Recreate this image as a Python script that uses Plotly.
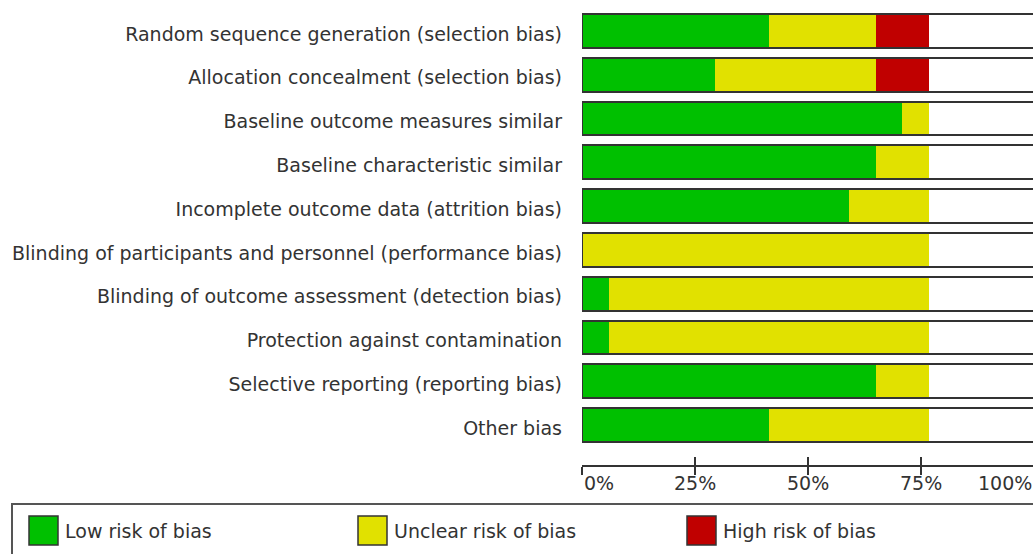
import plotly.graph_objects as go

# ---------------- data (percent of the drawn axis) ----------------
categories = [
    "Random sequence generation (selection bias)",
    "Allocation concealment (selection bias)",
    "Baseline outcome measures similar",
    "Baseline characteristic similar",
    "Incomplete outcome data (attrition bias)",
    "Blinding of participants and personnel (performance bias)",
    "Blinding of outcome assessment (detection bias)",
    "Protection against contamination",
    "Selective reporting (reporting bias)",
    "Other bias",
]
low_risk = [41.3, 29.5, 70.8, 64.9, 59.0, 0.0, 5.9, 5.9, 64.9, 41.3]
unclear_risk = [23.6, 35.4, 5.9, 11.8, 17.7, 76.7, 70.8, 70.8, 11.8, 35.4]
high_risk = [11.8, 11.8, 0.0, 0.0, 0.0, 0.0, 0.0, 0.0, 0.0, 0.0]
full_scale = [100.0] * len(categories)

series_names = ["Low risk of bias", "Unclear risk of bias", "High risk of bias"]
series_colors = ["#00C000", "#E1E100", "#C00000"]

tick_values = [0, 25, 50, 75, 100]
tick_labels = ["0%", "25%", "50%", "75%", "100%"]
tick_anchors = ["left", "center", "center", "center", "right"]

# ---------------- layout geometry ----------------
FIG_W, FIG_H = 1033, 554
L, R, T, B = 582, 0, 9, 89
PW, PH = FIG_W - L - R, FIG_H - T - B
XMAX = 99.7
BAR_W = 0.77
LABEL_SHIFT = 0.07

def px_x(px):
    return (px - L) / PW

def px_y(py):
    return (FIG_H - B - py) / PH

fig = go.Figure()

for name, vals, col in zip(series_names, [low_risk, unclear_risk, high_risk], series_colors):
    fig.add_trace(go.Bar(
        y=categories, x=vals, name=name, orientation="h",
        marker=dict(color=col, line=dict(width=0)),
        width=BAR_W, showlegend=False, hoverinfo="x+y",
    ))

# outline box of each bar (0-100%) drawn on top
fig.add_trace(go.Bar(
    y=categories, x=full_scale, orientation="h", xaxis="x2", yaxis="y2",
    marker=dict(color="rgba(0,0,0,0)", line=dict(color="#333333", width=2)),
    width=BAR_W, showlegend=False, hoverinfo="skip",
))

# invisible carrier trace for the category label axis
fig.add_trace(go.Bar(
    y=categories, x=[0] * len(categories), orientation="h", xaxis="x", yaxis="y3",
    marker=dict(color="rgba(0,0,0,0)", line=dict(width=0)),
    showlegend=False, hoverinfo="skip",
))

yrange = [len(categories) - 0.5 + 0.41, -0.5]
label_range = [yrange[0] - LABEL_SHIFT, yrange[1] - LABEL_SHIFT]

label_font = dict(family="DejaVu Sans", size=19, color="#333333")
small_font = dict(family="DejaVu Sans", size=19, color="#333333")

fig.update_layout(
    width=FIG_W, height=FIG_H,
    margin=dict(l=L, r=R, t=T, b=B, pad=0),
    barmode="stack",
    paper_bgcolor="white", plot_bgcolor="white",
    showlegend=False,
    xaxis=dict(
        range=[0, XMAX], tickvals=tick_values, showticklabels=False,
        ticks="outside", ticklen=8, tickwidth=1.5, tickcolor="#333333",
        showline=True, linecolor="#333333", linewidth=1.5,
        showgrid=False, zeroline=False, fixedrange=True,
    ),
    xaxis2=dict(
        range=[0, XMAX], overlaying="x", anchor="y2", side="bottom",
        tickvals=tick_values, showticklabels=False,
        ticks="inside", ticklen=8, tickwidth=1.5, tickcolor="#333333",
        showline=False, showgrid=False, zeroline=False, fixedrange=True,
    ),
    yaxis=dict(
        type="category", categoryorder="array", categoryarray=categories,
        range=yrange, showgrid=False, zeroline=False, showline=False,
        ticks="", showticklabels=False,
    ),
    yaxis2=dict(
        type="category", categoryorder="array", categoryarray=categories,
        range=yrange, overlaying="y", anchor="x2", showticklabels=False,
        showgrid=False, zeroline=False, showline=False, ticks="",
    ),
    yaxis3=dict(
        type="category", categoryorder="array", categoryarray=categories,
        range=label_range, overlaying="y", anchor="x", side="left",
        showgrid=False, zeroline=False, showline=False,
        ticks="", ticklabelstandoff=19, tickfont=label_font,
    ),
)

# x tick labels
for v, lab, anc in zip(tick_values, tick_labels, tick_anchors):
    fig.add_annotation(
        x=v / XMAX, xref="x domain", y=px_y(483), yref="paper",
        text=lab, showarrow=False, xanchor=anc, yanchor="middle",
        font=small_font,
    )

# legend box
fig.add_shape(type="rect", xref="paper", yref="paper",
              x0=px_x(12), x1=px_x(1045), y0=px_y(504), y1=px_y(570),
              line=dict(color="#555555", width=2), fillcolor="rgba(0,0,0,0)")

legend_x = [29, 358, 687]
for lx, name, col in zip(legend_x, series_names, series_colors):
    fig.add_shape(type="rect", xref="paper", yref="paper",
                  x0=px_x(lx), x1=px_x(lx + 29), y0=px_y(545), y1=px_y(516),
                  line=dict(color="#333333", width=1.5), fillcolor=col)
    fig.add_annotation(
        x=px_x(lx + 34), xref="paper", y=px_y(531), yref="paper",
        text=name, showarrow=False, xanchor="left", yanchor="middle",
        font=small_font,
    )

fig.write_html(
    "out.html",
    config={"displayModeBar": False},
    post_script="document.body.style.margin='0';document.body.style.overflow='hidden';",
)
